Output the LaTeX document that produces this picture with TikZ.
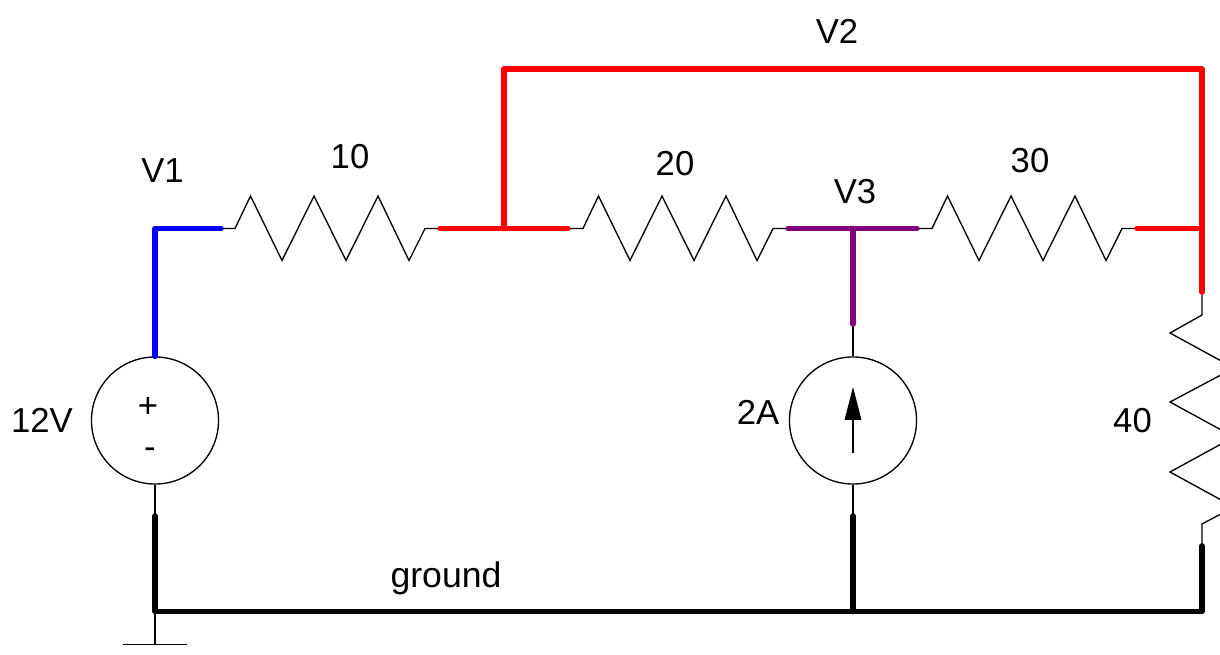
\documentclass[tikz,border=0pt]{standalone}
\usepackage{fontspec}
\setmainfont{Liberation Sans}
\definecolor{wirepurple}{HTML}{800080}
\tikzset{
  thin wire/.style={draw=black,line width=1pt,line join=miter},
  fat wire/.style={line width=4.2pt,line cap=round,line join=round},
  lbl/.style={inner sep=0pt,font=\fontsize{26}{30}\selectfont,text=black},
  src/.style={circle,draw=black,line width=1pt,minimum size=95.3pt,inner sep=0pt},
  pt/.style={coordinate}
}
\begin{document}
\begin{tikzpicture}[x=0.75pt,y=-0.75pt]
\useasboundingbox (0,0) rectangle (1220,655);
\clip (0,0) rectangle (1220,655);
% sources
\node[src] (vs) at (155,420.5) {};
\node[src] (is) at (853,420.5) {};
% junctions and wire ends
\coordinate (v1corner) at (155,228.5);
\coordinate (r1a) at (221,228.5);
\coordinate (r1b) at (440,228.5);
\coordinate (r2a) at (568,228.5);
\coordinate (r2b) at (788,228.5);
\coordinate (r3a) at (917,228.5);
\coordinate (r3b) at (1137,228.5);
\coordinate (j2) at (504,228.5);
\coordinate (j2up) at (504,69);
\coordinate (j4up) at (1202,69);
\coordinate (j4) at (1202,228.5);
\coordinate (r4a) at (1202,292);
\coordinate (r4b) at (1202,546);
\coordinate (j3) at (853,228.5);
\coordinate (isfat) at (853,324);
\coordinate (vsfat) at (155,516);
\coordinate (isgnd) at (853,516);
\coordinate (gl) at (155,611.5);
\coordinate (gm) at (853,611.5);
\coordinate (gr) at (1202,611.5);
\coordinate (gs) at (155,644.5);
\coordinate (gsl) at (123,644.5);
\coordinate (gsr) at (187,644.5);
\coordinate (arrbot) at (853,453);
\coordinate (arrbase) at (853,420);
% resistors
\draw[thin wire] (r1a) -- (235,228.5) -- (250.5,196) -- (282,260.5) -- (314,196) -- (346,260.5) -- (378,196) -- (409,260.5) -- (425,228.5) -- (r1b);
\draw[thin wire] (r2a) -- (583,228.5) -- (598.5,196) -- (630,260.5) -- (662,196) -- (694,260.5) -- (726,196) -- (757,260.5) -- (773,228.5) -- (r2b);
\draw[thin wire] (r3a) -- (932,228.5) -- (947.5,196) -- (979,260.5) -- (1011,196) -- (1043,260.5) -- (1075,196) -- (1106,260.5) -- (1122,228.5) -- (r3b);
\draw[thin wire] (r4a) -- (1202,315) -- (1170,333) -- (1234,368) -- (1170,402) -- (1234,437) -- (1170,472) -- (1234,507) -- (1202,524) -- (r4b);
% leads
\draw[thin wire] (vs.south) -- (vsfat);
\draw[thin wire] (is.south) -- (isgnd);
\draw[thin wire] (is.north) -- (isfat);
\draw[thin wire] (gl) -- (gs);
\draw[thin wire] (gsl) -- (gsr);
% current arrow
\draw[thin wire] (arrbot) -- (arrbase);
\fill[black] (853,387) -- (861.5,420) -- (844.5,420) -- cycle;
% coloured wires
\draw[fat wire,blue] (vs.north) -- (v1corner) -- (r1a);
\draw[fat wire,red] (r1b) -- (r2a);
\draw[fat wire,red] (j2) -- (j2up) -- (j4up) -- (r4a);
\draw[fat wire,red] (r3b) -- (j4);
\draw[fat wire,wirepurple] (r2b) -- (r3a);
\draw[fat wire,wirepurple] (j3) -- (isfat);
\draw[fat wire,black] (vsfat) -- (gl) -- (gr) -- (r4b);
\draw[fat wire,black] (isgnd) -- (gm);
% labels
\node[lbl] (t12v) at (42,420) {12V};
\node[lbl] (tplus) at (148,407) {+};
\node[lbl] (tminus) at (150,453) {-};
\node[lbl] (tv1) at (162.5,171) {V1};
\node[lbl] (t10) at (350,157) {10};
\node[lbl] (t20) at (675,163.5) {20};
\node[lbl] (t30) at (1030,160.5) {30};
\node[lbl] (tv2) at (837,31) {V2};
\node[lbl] (tv3) at (855,192) {V3};
\node[lbl] (t2a) at (758,412) {2A};
\node[lbl] (t40) at (1132.5,421) {40};
\node[lbl,font=\fontsize{26.7}{30}\selectfont] (tgnd) at (446,578) {ground};
\end{tikzpicture}
\end{document}
